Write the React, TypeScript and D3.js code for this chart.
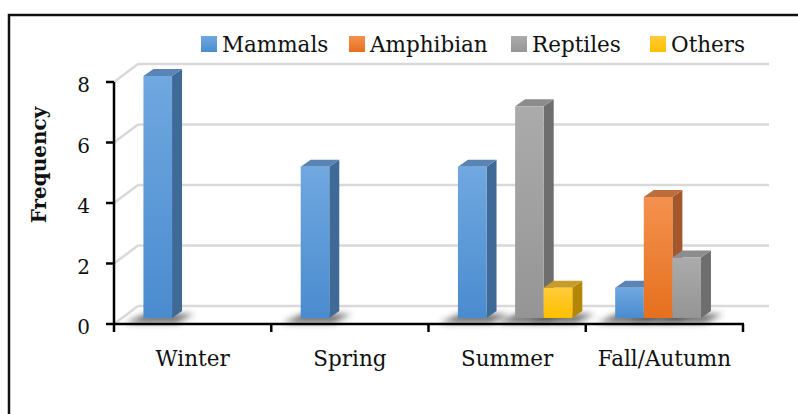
import * as d3 from "d3"

const categories = ["Winter", "Spring", "Summer", "Fall/Autumn"]
const seriesNames = ["Mammals", "Amphibian", "Reptiles", "Others"]
const mammals = [8, 5, 5, 1]
const amphibian = [0, 0, 0, 4]
const reptiles = [0, 0, 7, 2]
const others = [0, 0, 1, 0]
const yTicks = [0, 2, 4, 6, 8]

const seriesValues = [mammals, amphibian, reptiles, others]

// front gradient top/bottom, side face, top face
const palette = [
  { light: "#70a8e0", dark: "#4a8bcf", side: "#3f6a98", top: "#5a84b6" },
  { light: "#f4914f", dark: "#e5701e", side: "#a3572a", top: "#bb6d3c" },
  { light: "#ababab", dark: "#959595", side: "#6e6e6e", top: "#8c8c8c" },
  { light: "#ffcb3a", dark: "#ffbf00", side: "#b58700", top: "#c99b28" },
]

// legend slot positions (left edge of swatch)
const legendX = [201, 349, 511, 650]

const W = 798
const H = 414
const depth = { dx: 24, dy: -18 } // full floor depth
const barPlane = { dx: 8, dy: -6 } // front face of the bars
const barDepth = { dx: 10, dy: -7 }

const font = "DejaVu Serif"

const App = () => {
  const x = d3.scaleBand<string>().domain(categories).range([114, 743])
  const y = d3.scaleLinear().domain([0, 8]).range([324, 82])
  const bw = x.bandwidth()
  const unit = bw / 5.5
  const inner = d3
    .scaleBand<string>()
    .domain(seriesNames)
    .range([unit * 0.75, bw - unit * 0.75])

  const bars: { key: string; s: number; x0: number; x1: number; yTop: number; yBase: number }[] = []
  categories.forEach((c, ci) => {
    seriesNames.forEach((name, si) => {
      const v = seriesValues[si][ci]
      if (!v) return
      const x0 = (x(c) as number) + (inner(name) as number) + barPlane.dx
      bars.push({
        key: `${c}-${name}`,
        s: si,
        x0,
        x1: x0 + inner.bandwidth(),
        yTop: y(v) + barPlane.dy,
        yBase: y(0) + barPlane.dy,
      })
    })
  })

  const x0Axis = x.range()[0]
  const x1Axis = x.range()[1]

  return (
    <svg
      width={W}
      height={H}
      style={{ position: "absolute", left: 0, top: 0, background: "#fff", display: "block" }}
    >
      <defs>
        {palette.map((p, i) => (
          <linearGradient key={i} id={`g${i}`} x1="0" y1="0" x2="0" y2="1">
            <stop offset="0%" stopColor={p.light} />
            <stop offset="100%" stopColor={p.dark} />
          </linearGradient>
        ))}
        <filter id="blur" x="-50%" y="-100%" width="200%" height="300%">
          <feGaussianBlur stdDeviation="3" />
        </filter>
      </defs>

      {/* outer frame */}
      <path d={`M9,${H + 5} V15 H${W + 5}`} fill="none" stroke="#111" strokeWidth={2.5} />

      {/* back wall & side wall gridlines */}
      {yTicks.map((t) => (
        <g key={t} stroke="#d9d9d9" strokeWidth={2.5} fill="none">
          <line x1={x0Axis} y1={y(t)} x2={x0Axis + depth.dx} y2={y(t) + depth.dy} />
          <line x1={x0Axis + depth.dx} y1={y(t) + depth.dy} x2={x1Axis + depth.dx + 2} y2={y(t) + depth.dy} />
        </g>
      ))}

      {/* floor shadows */}
      <g filter="url(#blur)">
        {bars.map((b) => (
          <polygon
            key={b.key}
            points={`${b.x0 - 18},${b.yBase + 5} ${b.x1 + 4},${b.yBase + 5} ${b.x1 + 22},${b.yBase - 4} ${b.x0 + 2},${b.yBase - 4}`}
            fill="#3a3a3a"
            opacity={0.75}
          />
        ))}
      </g>

      {/* bars */}
      {bars.map((b) => {
        const p = palette[b.s]
        return (
          <g key={b.key}>
            <polygon
              points={`${b.x1},${b.yTop} ${b.x1 + barDepth.dx},${b.yTop + barDepth.dy} ${b.x1 + barDepth.dx},${b.yBase + barDepth.dy} ${b.x1},${b.yBase}`}
              fill={p.side}
            />
            <polygon
              points={`${b.x0},${b.yTop} ${b.x0 + barDepth.dx},${b.yTop + barDepth.dy} ${b.x1 + barDepth.dx},${b.yTop + barDepth.dy} ${b.x1},${b.yTop}`}
              fill={p.top}
            />
            <rect x={b.x0} y={b.yTop} width={b.x1 - b.x0} height={b.yBase - b.yTop} fill={`url(#g${b.s})`} />
          </g>
        )
      })}

      {/* y axis */}
      <line x1={x0Axis} y1={y(8)} x2={x0Axis} y2={y(0)} stroke="#000" strokeWidth={2.5} />
      {yTicks.map((t) => (
        <g key={t}>
          <line x1={x0Axis - 8} y1={y(t)} x2={x0Axis} y2={y(t)} stroke="#000" strokeWidth={2.5} />
          <text x={90} y={y(t) + 10} textAnchor="end" fontFamily={font} fontSize={20} fill="#111">
            {t}
          </text>
        </g>
      ))}

      {/* x axis */}
      <line x1={x0Axis - 1} y1={y(0)} x2={x1Axis + 1} y2={y(0)} stroke="#000" strokeWidth={2.5} />
      {[...categories.map((c) => x(c) as number), x1Axis].map((t, i) => (
        <line key={i} x1={t} y1={y(0)} x2={t} y2={y(0) + 8} stroke="#000" strokeWidth={2.5} />
      ))}
      {categories.map((c) => (
        <text
          key={c}
          x={(x(c) as number) + bw / 2}
          y={366}
          textAnchor="middle"
          fontFamily={font}
          fontSize={21.5}
          fill="#111"
        >
          {c}
        </text>
      ))}

      {/* y title */}
      <text
        transform="translate(46,165) rotate(-90)"
        textAnchor="middle"
        fontFamily={font}
        fontWeight="bold"
        fontSize={20}
        fill="#111"
      >
        Frequency
      </text>

      {/* legend */}
      {seriesNames.map((name, i) => (
        <g key={name}>
          <rect x={legendX[i]} y={36} width={16} height={16} fill={`url(#g${i})`} />
          <text x={legendX[i] + 21} y={52} fontFamily={font} fontSize={21.5} fill="#111">
            {name}
          </text>
        </g>
      ))}
    </svg>
  )
}

export default App
